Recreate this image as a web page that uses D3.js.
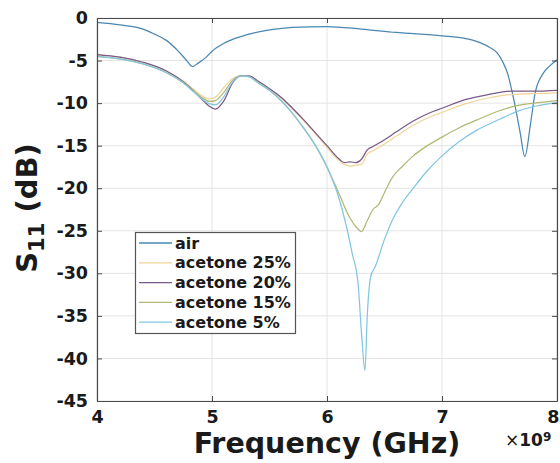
<!DOCTYPE html>
<html><head><meta charset="utf-8">
<script src="https://cdn.jsdelivr.net/npm/d3@7/dist/d3.min.js"></script>
<style>body{margin:0;background:#fff;}svg{display:block;font-family:"DejaVu Sans",sans-serif;}</style>
</head><body>
<script>
// ---- data ----
const xTicks = [4, 5, 6, 7, 8];
const yTicks = [0, -5, -10, -15, -20, -25, -30, -35, -40, -45];
const seriesNames = ["air", "acetone 25%", "acetone 20%", "acetone 15%", "acetone 5%"];
const seriesColors = ["#4a88b2", "#f0d49a", "#7a5a88", "#b2b874", "#82c6e2"];

const freqAir = [4.0,4.2,4.4,4.5,4.6,4.7,4.78,4.83,4.88,4.95,5.0,5.1,5.2,5.35,5.5,5.7,6.0,6.3,6.6,7.0,7.2,7.33,7.42,7.48,7.53,7.57,7.62,7.68,7.72,7.77,7.81,7.88,7.94,8.0];
const s11Air = [-0.5,-0.8,-1.3,-1.9,-2.6,-3.8,-5.0,-5.7,-5.3,-4.6,-3.9,-3.0,-2.4,-1.8,-1.4,-1.1,-1.0,-1.3,-1.7,-2.1,-2.4,-2.9,-3.5,-4.1,-5.2,-6.5,-9.3,-13.5,-16.3,-12.4,-8.8,-6.5,-5.6,-4.9];

const freqA = [4.0,4.2,4.4,4.6,4.75,4.85,4.93,4.98,5.03,5.1,5.18,5.25,5.32,5.4,5.5,5.6,5.7,5.8,5.9,6.0,6.1,6.15,6.2,6.25,6.3,6.35,6.4,6.5,6.6,6.75,6.9,7.0,7.2,7.4,7.6,7.8,8.0];
const s11Ac25 = [-4.3,-4.6,-5.2,-6.2,-7.4,-8.5,-9.3,-9.5,-9.3,-8.2,-7.1,-6.8,-6.9,-7.5,-8.4,-9.4,-10.7,-12.1,-13.6,-15.2,-16.7,-17.2,-17.4,-17.3,-17.2,-16.0,-15.6,-14.8,-13.9,-12.6,-11.6,-11.1,-10.1,-9.4,-9.0,-8.9,-8.8];
const s11Ac20 = [-4.3,-4.6,-5.2,-6.2,-7.5,-8.7,-9.8,-10.4,-10.7,-9.8,-7.6,-6.8,-6.8,-7.4,-8.3,-9.3,-10.6,-12.0,-13.5,-15.0,-16.5,-17.0,-16.9,-17.0,-16.6,-15.5,-15.1,-14.3,-13.4,-12.1,-11.1,-10.6,-9.6,-9.0,-8.6,-8.6,-8.5];

const freqB = [4.0,4.2,4.4,4.6,4.75,4.85,4.93,4.98,5.03,5.1,5.18,5.25,5.32,5.4,5.5,5.6,5.7,5.8,5.9,6.0,6.1,6.2,6.25,6.3,6.35,6.4,6.45,6.5,6.57,6.65,6.75,6.85,7.0,7.15,7.3,7.5,7.65,7.8,8.0];
const s11Ac15 = [-4.5,-4.8,-5.4,-6.4,-7.6,-8.7,-9.5,-9.8,-9.7,-8.8,-7.3,-6.8,-6.9,-7.6,-8.5,-9.7,-11.2,-13.0,-15.0,-17.5,-20.5,-23.5,-24.5,-25.1,-23.8,-22.5,-21.9,-20.5,-18.7,-17.5,-16.2,-15.2,-14.0,-12.9,-12.0,-10.9,-10.3,-10.0,-9.7];

const freqC = [4.0,4.2,4.4,4.6,4.75,4.85,4.93,4.98,5.03,5.1,5.18,5.25,5.32,5.4,5.5,5.6,5.7,5.8,5.9,6.0,6.1,6.16,6.22,6.27,6.3,6.33,6.35,6.38,6.42,6.5,6.57,6.65,6.75,6.85,7.0,7.15,7.3,7.5,7.65,7.8,8.0];
const s11Ac5 = [-4.5,-4.8,-5.4,-6.4,-7.6,-8.8,-9.7,-10.1,-10.2,-9.3,-7.5,-6.8,-6.9,-7.6,-8.5,-9.7,-11.2,-13.0,-15.0,-17.5,-21.0,-24.0,-27.7,-31.2,-37.0,-41.4,-35.0,-30.4,-29.2,-26.0,-23.7,-21.8,-20.0,-18.3,-16.2,-14.5,-13.2,-11.9,-11.0,-10.4,-9.9];

const series = [
  {x: freqAir, y: s11Air},
  {x: freqA, y: s11Ac25},
  {x: freqA, y: s11Ac20},
  {x: freqB, y: s11Ac15},
  {x: freqC, y: s11Ac5}
];

// ---- drawing ----
const W = 560, H = 463;
const m = {left: 97, top: 18, right: 3, bottom: 62};
const pw = W - m.left - m.right, ph = H - m.top - m.bottom;

const svg = d3.select("body").append("svg").attr("width", W).attr("height", H);
const x = d3.scaleLinear().domain([4, 8]).range([m.left, m.left + pw]);
const y = d3.scaleLinear().domain([-45, 0]).range([m.top + ph, m.top]);

// grid
const g = svg.append("g");
g.selectAll(".gx").data(xTicks).join("line")
  .attr("x1", d => x(d)).attr("x2", d => x(d)).attr("y1", m.top).attr("y2", m.top + ph)
  .attr("stroke", "#e4e4e4").attr("stroke-width", 1);
g.selectAll(".gy").data(yTicks).join("line")
  .attr("y1", d => y(d)).attr("y2", d => y(d)).attr("x1", m.left).attr("x2", m.left + pw)
  .attr("stroke", "#e4e4e4").attr("stroke-width", 1);

// lines
const line = d3.line().curve(d3.curveMonotoneX);
series.forEach((s, i) => {
  const pts = s.x.map((f, k) => [x(f), y(s.y[k])]);
  svg.append("path").attr("d", line(pts)).attr("fill", "none")
    .attr("stroke", seriesColors[i]).attr("stroke-width", 1.25);
});

// axes
const boxColor = "#4a4a4a";
const axB = svg.append("g").attr("transform", `translate(0,${m.top + ph})`)
  .call(d3.axisBottom(x).tickValues(xTicks).tickFormat(d3.format("d")).tickSizeInner(-5).tickSizeOuter(0).tickPadding(10));
const axT = svg.append("g").attr("transform", `translate(0,${m.top})`)
  .call(d3.axisTop(x).tickValues(xTicks).tickFormat("").tickSizeInner(-5).tickSizeOuter(0));
const axL = svg.append("g").attr("transform", `translate(${m.left},0)`)
  .call(d3.axisLeft(y).tickValues(yTicks).tickFormat(d => d === 0 ? "0" : "-" + Math.abs(d)).tickSizeInner(-5).tickSizeOuter(0).tickPadding(9));
const axR = svg.append("g").attr("transform", `translate(${m.left + pw},0)`)
  .call(d3.axisRight(y).tickValues(yTicks).tickFormat("").tickSizeInner(-5).tickSizeOuter(0));
[axB, axT, axL, axR].forEach(a => {
  a.select(".domain").attr("stroke", boxColor).attr("stroke-width", 1.2);
  a.selectAll(".tick line").attr("stroke", boxColor);
  a.selectAll("text").attr("font-family", "DejaVu Sans").attr("font-weight", "bold")
    .attr("font-size", 17.5).attr("fill", "#1a1a1a");
});
axB.selectAll(".tick text").filter(d => d === 8).attr("text-anchor", "end").attr("dx", 2);

// axis titles
svg.append("text").attr("x", x(6)).attr("y", 453).attr("text-anchor", "middle")
  .attr("font-size", 28.5).attr("font-weight", "bold").attr("fill", "#1a1a1a").text("Frequency (GHz)");

const yl = svg.append("text").attr("transform", `translate(37,208) rotate(-90)`)
  .attr("text-anchor", "middle").attr("font-size", 29).attr("font-weight", "bold").attr("fill", "#1a1a1a");
yl.append("tspan").text("S");
yl.append("tspan").attr("font-size", 21).attr("dy", 7).text("11");
yl.append("tspan").attr("dy", -7).text(" (dB)");

// exponent
const ex = svg.append("text").attr("x", 505).attr("y", 446).attr("font-size", 17).attr("fill", "#1a1a1a");
ex.append("tspan").text("×");
ex.append("tspan").attr("font-weight", "bold").text("10");
ex.append("tspan").attr("font-weight", "bold").attr("font-size", 12).attr("dy", -5).text("9");

// legend
const lg = svg.append("g");
lg.append("rect").attr("x", 135.5).attr("y", 232.5).attr("width", 160).attr("height", 101)
  .attr("fill", "#fff").attr("stroke", "#555").attr("stroke-width", 1.2);
seriesNames.forEach((n, i) => {
  const yy = 243 + i * 19.8;
  lg.append("line").attr("x1", 139).attr("x2", 172).attr("y1", yy).attr("y2", yy)
    .attr("stroke", seriesColors[i]).attr("stroke-width", 1.3);
  lg.append("text").attr("x", 175).attr("y", yy).attr("dy", "0.35em")
    .attr("font-size", 16).attr("font-weight", "bold").attr("fill", "#1a1a1a").text(n);
});
</script>
</body></html>
